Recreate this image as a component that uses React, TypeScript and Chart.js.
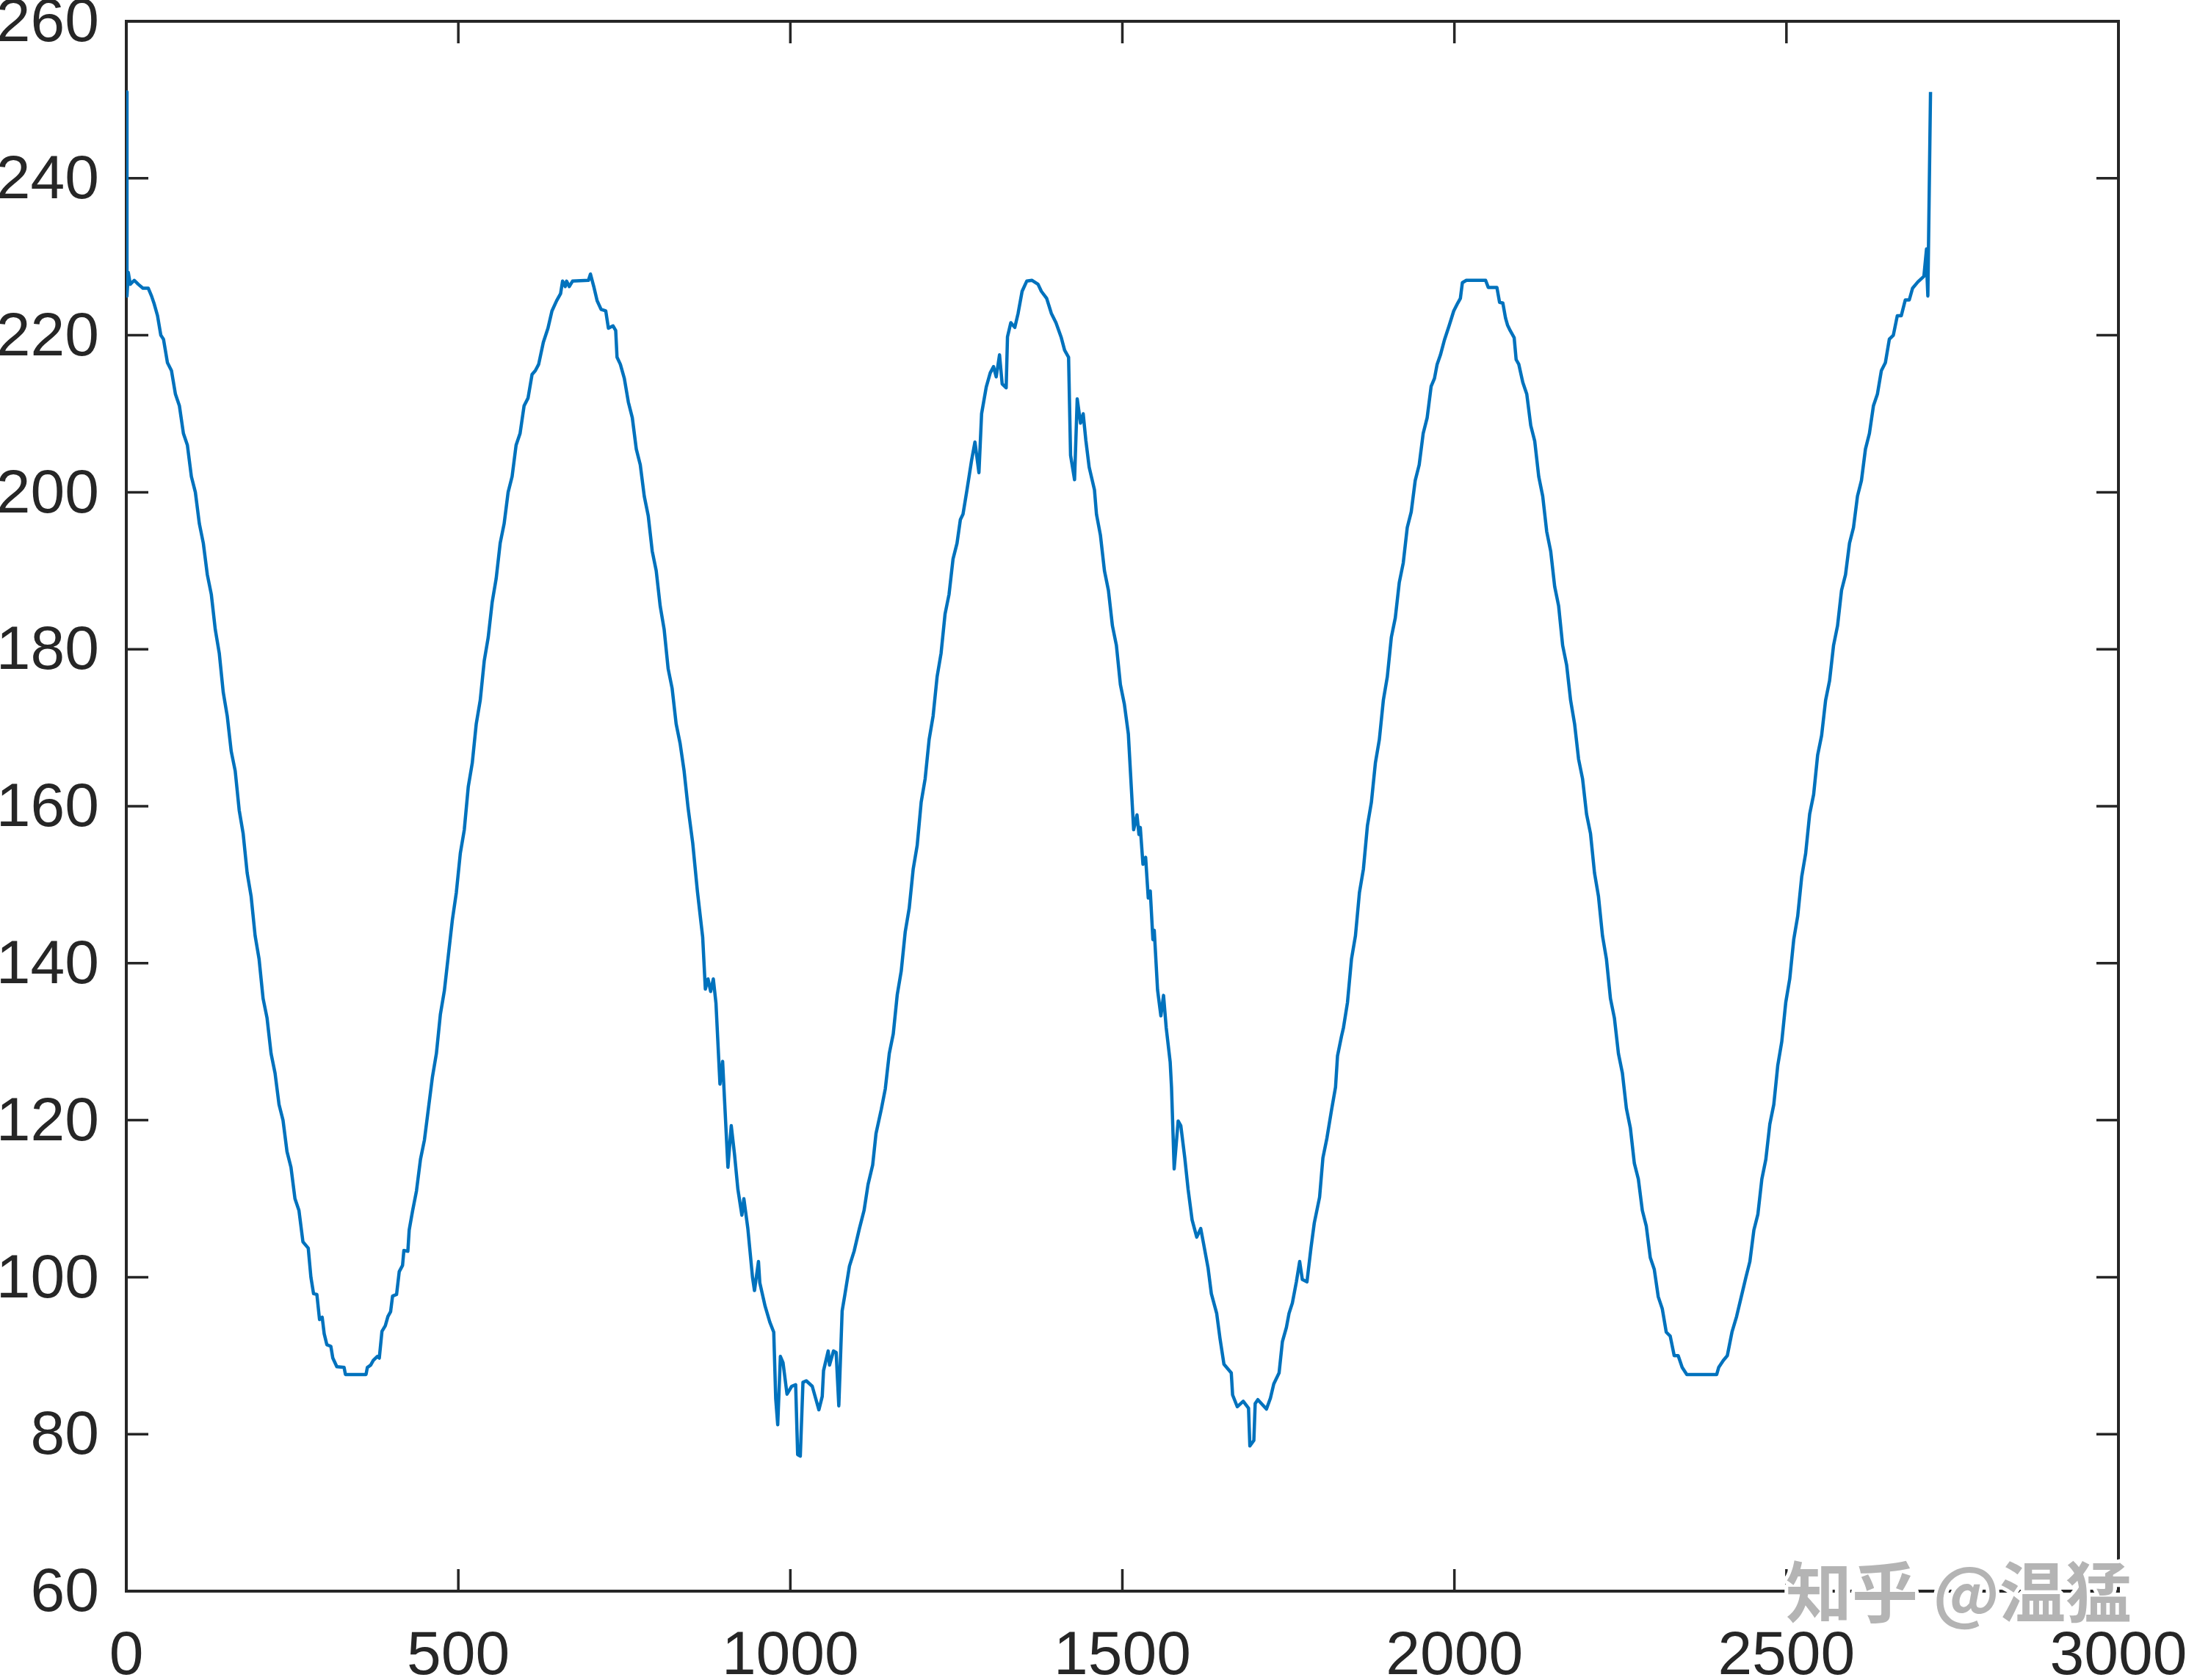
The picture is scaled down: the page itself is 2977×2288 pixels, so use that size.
import { useEffect, useRef } from "react";
import { Chart, registerables } from "chart.js";

Chart.register(...registerables);

const sampleIndex = [
  0, 1, 3, 6, 12, 18, 25, 33, 38, 42, 47, 52, 56, 62, 68, 74, 80, 86, 92, 98,
  104, 110, 116, 122, 128, 134, 140, 146, 152, 158, 164, 170, 176, 182, 188, 194, 200, 206, 212, 218,
  224, 230, 236, 242, 248, 254, 260, 266, 274, 278, 282, 287, 291, 295, 298, 302, 308, 311, 317, 328,
  330, 361, 363, 368, 372, 378, 381, 385, 390, 394, 398, 401, 407, 411, 416, 418, 424, 426, 431, 437,
  443, 449, 455, 461, 467, 473, 479, 485, 491, 497, 503, 509, 515, 521, 527, 533, 539, 545, 551, 557,
  563, 569, 575, 581, 587, 593, 599, 605, 611, 616, 621, 628, 635, 641, 648, 654, 657, 661, 663, 667,
  672, 696, 699, 704, 709, 715, 722, 726, 733, 737, 739, 744, 750, 756, 762, 768, 774, 780, 786, 792,
  798, 804, 810, 816, 822, 828, 834, 840, 846, 853, 860, 868, 872, 876, 880, 884, 888, 894, 898, 901,
  906, 911, 916, 921, 927, 930, 936, 943, 946, 952, 954, 962, 969, 975, 978, 981, 985, 989, 995, 1002,
  1008, 1011, 1015, 1019, 1024, 1033, 1043, 1048, 1050, 1057, 1059, 1065, 1069, 1073, 1078, 1082, 1089, 1096, 1104, 1111,
  1117, 1124, 1129, 1137, 1143, 1149, 1155, 1161, 1167, 1173, 1179, 1185, 1191, 1197, 1203, 1209, 1215, 1221, 1227, 1233,
  1239, 1245, 1251, 1256, 1260, 1266, 1273, 1278, 1284, 1288, 1295, 1301, 1306, 1310, 1315, 1319, 1325, 1327, 1332, 1338,
  1343, 1349, 1356, 1364, 1373, 1378, 1386, 1393, 1400, 1408, 1413, 1419, 1422, 1428, 1432, 1437, 1441, 1445, 1450, 1458,
  1461, 1467, 1473, 1479, 1485, 1491, 1497, 1503, 1509, 1517, 1522, 1525, 1527, 1531, 1535, 1539, 1542, 1546, 1548, 1553,
  1558, 1562, 1566, 1572, 1574, 1578, 1584, 1588, 1594, 1599, 1605, 1612, 1618, 1622, 1629, 1634, 1642, 1647, 1653, 1664,
  1666, 1673, 1682, 1690, 1692, 1698, 1700, 1704, 1717, 1723, 1728, 1736, 1741, 1747, 1751, 1756, 1762, 1767, 1771, 1778,
  1784, 1789, 1797, 1802, 1808, 1815, 1821, 1824, 1830, 1833, 1839, 1845, 1851, 1857, 1863, 1869, 1875, 1881, 1887, 1893,
  1899, 1905, 1911, 1917, 1923, 1929, 1935, 1941, 1947, 1953, 1959, 1965, 1970, 1974, 1979, 1985, 1992, 1999, 2005, 2009,
  2012, 2018, 2047, 2051, 2064, 2068, 2073, 2077, 2080, 2084, 2090, 2093, 2097, 2103, 2109, 2115, 2121, 2127, 2133, 2139,
  2145, 2151, 2157, 2163, 2169, 2175, 2181, 2187, 2193, 2199, 2205, 2211, 2217, 2223, 2229, 2235, 2241, 2247, 2253, 2259,
  2265, 2271, 2277, 2283, 2289, 2295, 2301, 2307, 2313, 2319, 2325, 2331, 2337, 2343, 2350, 2395, 2398, 2405, 2411, 2418,
  2425, 2432, 2439, 2445, 2451, 2457, 2463, 2469, 2475, 2481, 2487, 2493, 2499, 2505, 2511, 2517, 2523, 2529, 2535, 2541,
  2547, 2553, 2559, 2565, 2571, 2577, 2583, 2589, 2595, 2601, 2607, 2613, 2619, 2625, 2631, 2637, 2643, 2649, 2655, 2661,
  2667, 2673, 2679, 2685, 2690, 2698, 2707, 2711, 2712, 2713, 2717,
];

const signalValue = [
  251, 225, 228, 226.5, 227, 226.5, 226, 226, 225, 224, 222.5, 220, 219.5, 216.5, 215.5, 212.5, 211, 207.5, 206, 202,
  200, 196, 193.5, 189.5, 187, 182.5, 179.5, 174.5, 171.5, 167, 164.5, 159.5, 156.5, 151.5, 148.5, 143.5, 140.5, 135.5, 133, 128.5,
  126, 122, 120, 116, 114, 110, 108.5, 104.5, 103.7, 100, 97.9, 97.8, 94.6, 94.9, 92.8, 91.4, 91.2, 89.7, 88.6, 88.5,
  87.6, 87.6, 88.5, 88.8, 89.4, 89.9, 89.7, 93.1, 93.8, 95, 95.6, 97.6, 97.8, 100.7, 101.5, 103.4, 103.3, 106, 108.4, 111,
  115, 117.5, 121.5, 125.5, 128.5, 133.5, 136.5, 141, 145.5, 149, 154, 157, 162.5, 165.5, 170.5, 173.5, 178.5, 181.5, 186, 189,
  193.5, 196, 200, 202, 206, 207.5, 211, 212, 215, 215.5, 216.3, 219.1, 220.9, 223.1, 224.4, 225.3, 226.9, 226.2, 226.9, 226.2,
  226.9, 227, 227.8, 226.2, 224.4, 223.3, 223.1, 220.9, 221.2, 220.6, 217.2, 216.3, 214.5, 211.5, 209.5, 205.5, 203.5, 199.5, 197, 192.5,
  190, 185.5, 182.5, 177.5, 175, 170.5, 168, 164.5, 159.8, 155.3, 149.2, 143.3, 136.7, 138, 136.4, 138, 134.9, 124.6, 127.5, 122.4,
  114, 119.3, 115.6, 111.2, 107.9, 110, 106.2, 100, 98.3, 102, 99.3, 96.3, 94.3, 93, 84.5, 81.2, 89.9, 89.1, 85.1, 86.1,
  86.3, 77.4, 77.2, 86.6, 86.8, 86.1, 83.1, 84.8, 88.1, 90.6, 88.8, 90.6, 90.4, 83.6, 95.7, 97.7, 101.4, 103.3, 106.2, 108.5,
  111.8, 114.3, 118.3, 121.4, 124, 128.5, 131, 136, 139, 144, 147, 152, 155, 160.5, 163.5, 168.5, 171.5, 176.5, 179.5, 184.5,
  187, 191.5, 193.5, 196.5, 197.2, 200.3, 204.1, 206.4, 202.5, 210, 213.4, 215.2, 216, 214.7, 217.5, 213.8, 213.3, 219.8, 221.6, 221,
  222.8, 225.6, 226.9, 227, 226.5, 225.6, 224.7, 222.8, 221.6, 219.7, 218.1, 217.2, 204.7, 201.6, 211.9, 208.8, 210, 206.6, 203.2, 200.3,
  197.2, 194.5, 190, 187.5, 183, 180.5, 175.5, 173, 169.2, 157, 158.9, 156.4, 157.3, 152.6, 153.5, 148.3, 149.2, 143, 144.2, 136.6,
  133.3, 135.9, 131.8, 127.4, 124.2, 113.8, 119.9, 119.3, 115.2, 111.2, 107.3, 105.1, 106.2, 104.4, 101.2, 97.9, 95.4, 92.2, 88.9, 87.8,
  85, 83.5, 84.2, 83.3, 78.5, 79.2, 83.9, 84.4, 83.2, 84.6, 86.4, 87.8, 91.8, 93.6, 95.4, 96.7, 99.4, 102, 99.7, 99.4,
  103.7, 106.9, 110.2, 115.2, 117.7, 121.3, 124.2, 128.2, 130.7, 131.8, 135, 140.5, 143.5, 149, 152, 157.5, 160.5, 165.5, 168.5, 173.5,
  176.5, 181.5, 184, 188.5, 191, 195.5, 197.5, 201.5, 203.5, 207.5, 209.5, 213.5, 214.5, 216.3, 217.5, 219.4, 221.2, 223.1, 224.1, 224.7,
  226.7, 227, 227, 226.1, 226.1, 224.2, 224.1, 222.2, 221.3, 220.6, 219.7, 216.9, 216.3, 214, 212.5, 208.5, 206.5, 202, 199.5, 195,
  192.5, 188, 185.5, 180.5, 178, 173.5, 170.5, 166, 163.5, 159, 156.5, 151.5, 148.5, 143.5, 140.5, 135.5, 133, 128.5, 126, 121.5,
  119, 114.5, 112.5, 108.5, 106.5, 102.5, 101, 97.5, 96, 93, 92.5, 90, 90, 88.5, 87.6, 87.6, 88.5, 89.4, 90, 93,
  95, 97.5, 100, 102, 106, 108, 112.5, 115, 119.5, 122, 127, 130, 135, 138, 143, 146, 151, 154, 159, 161.5,
  166.5, 169, 173.5, 176, 180.5, 183, 187.5, 189.5, 193.5, 195.5, 199.5, 201.5, 205.5, 207.5, 211, 212.5, 215.5, 216.5, 219.5, 220,
  222.5, 222.5, 224.5, 224.5, 226, 226.8, 227.5, 231, 227, 225, 251,
];

const xTickValues = [0, 500, 1000, 1500, 2000, 2500, 3000];
const yTickValues = [60, 80, 100, 120, 140, 160, 180, 200, 220, 240, 260];

const WATERMARK = "知乎 @温猛";

const W = 2977;
const H = 2288;
const AXIS_COLOR = "#262626";
const LINE_COLOR = "#0072BD";
const TICK_FONT = "'Liberation Sans', Arial, Helvetica, sans-serif";

const framePlugin = {
  id: "matlabFrame",
  beforeDraw(chart: any) {
    const { ctx } = chart;
    ctx.save();
    ctx.fillStyle = "#ffffff";
    ctx.fillRect(0, 0, chart.width, chart.height);
    ctx.restore();
  },
  beforeDatasetsDraw(chart: any) {
    const { ctx, chartArea: a, scales } = chart;
    const xs = scales.x;
    const ys = scales.y;
    const tl = 30;
    ctx.save();
    ctx.strokeStyle = AXIS_COLOR;
    ctx.lineWidth = 3.5;
    ctx.beginPath();
    for (const v of xTickValues) {
      const px = xs.getPixelForValue(v);
      ctx.moveTo(px, a.bottom);
      ctx.lineTo(px, a.bottom - tl);
      ctx.moveTo(px, a.top);
      ctx.lineTo(px, a.top + tl);
    }
    for (const v of yTickValues) {
      const py = ys.getPixelForValue(v);
      ctx.moveTo(a.left, py);
      ctx.lineTo(a.left + tl, py);
      ctx.moveTo(a.right, py);
      ctx.lineTo(a.right - tl, py);
    }
    ctx.stroke();
    ctx.lineWidth = 4;
    ctx.strokeRect(a.left, a.top, a.right - a.left, a.bottom - a.top);

    // y tick labels
    ctx.fillStyle = AXIS_COLOR;
    ctx.font = `84px ${TICK_FONT}`;
    ctx.textAlign = "right";
    ctx.textBaseline = "middle";
    for (const v of yTickValues) {
      const py = ys.getPixelForValue(v);
      ctx.fillText(String(v), a.left - 37, py + 4);
    }
    ctx.restore();
  },
  afterDraw(chart: any) {
    const { ctx } = chart;
    ctx.save();
    ctx.font = "bold 90px 'Noto Sans CJK SC', sans-serif";
    ctx.textAlign = "left";
    ctx.textBaseline = "middle";
    ctx.lineJoin = "round";
    ctx.strokeStyle = "#ffffff";
    ctx.lineWidth = 10;
    ctx.strokeText(WATERMARK, 2432, 2168);
    ctx.fillStyle = "#b4b4b4";
    ctx.fillText(WATERMARK, 2432, 2168);
    ctx.restore();
  },
};

export default function App() {
  const ref = useRef<HTMLCanvasElement>(null);

  useEffect(() => {
    document.body.style.margin = "0";
    const canvas = ref.current;
    if (!canvas) return;
    const points = sampleIndex.map((x, i) => ({ x, y: signalValue[i] }));
    const chart = new Chart(canvas, {
      type: "line",
      data: {
        datasets: [
          {
            data: points,
            borderColor: LINE_COLOR,
            borderWidth: 4.5,
            pointRadius: 0,
            fill: false,
            tension: 0,
            borderJoinStyle: "round",
          },
        ],
      },
      options: {
        animation: false,
        responsive: false,
        devicePixelRatio: 1,
        events: [],
        layout: { padding: { left: 0, top: 29, right: 92, bottom: 0 } },
        plugins: {
          legend: { display: false },
          tooltip: { enabled: false },
        },
        scales: {
          x: {
            type: "linear",
            min: 0,
            max: 3000,
            grid: { display: false, drawTicks: false, tickLength: 0 },
            border: { display: false },
            ticks: {
              stepSize: 500,
              autoSkip: false,
              maxRotation: 0,
              padding: 39,
              color: AXIS_COLOR,
              font: { family: TICK_FONT, size: 84 },
              callback: (v: any) => String(v),
            },
            afterFit(scale: any) {
              scale.height = 121;
              scale.paddingLeft = 0;
              scale.paddingRight = 0;
            },
          },
          y: {
            type: "linear",
            min: 60,
            max: 260,
            grid: { display: false, drawTicks: false, tickLength: 0 },
            border: { display: false },
            ticks: {
              display: false,
              stepSize: 20,
              autoSkip: false,
            },
            afterFit(scale: any) {
              scale.width = 172;
              scale.paddingTop = 0;
              scale.paddingBottom = 0;
            },
          },
        },
      },
      plugins: [framePlugin],
    });
    return () => chart.destroy();
  }, []);

  return (
    <div style={{ position: "absolute", left: 0, top: 0, width: W, height: H }}>
      <canvas ref={ref} width={W} height={H} style={{ display: "block", width: W, height: H }} />
    </div>
  );
}
